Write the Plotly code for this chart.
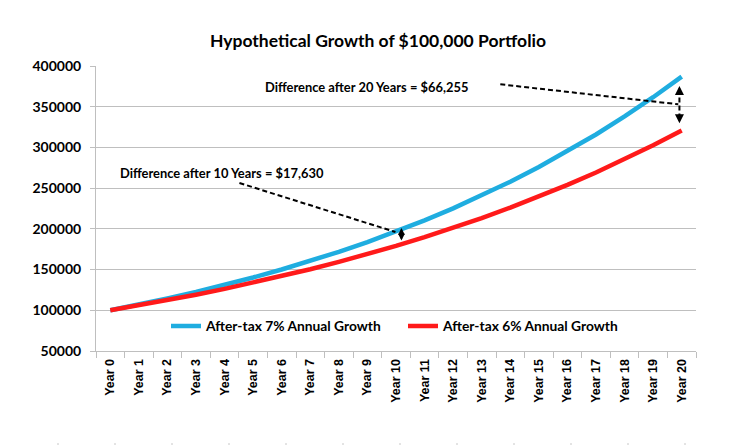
import plotly.graph_objects as go

years = [f"Year {i}" for i in range(21)]
growth_7 = [100000, 107000, 114490, 122504, 131080, 140255, 150073, 160578, 171819, 183846,
            196715, 210485, 225219, 240985, 257853, 275903, 295216, 315882, 337993, 361653, 386968]
growth_6 = [100000, 106000, 112360, 119102, 126248, 133823, 141852, 150363, 159385, 168948,
            179085, 189830, 201220, 213293, 226090, 239656, 254035, 269277, 285434, 302560, 320714]
series_names = ["After-tax 7% Annual Growth", "After-tax 6% Annual Growth"]
title_text = "Hypothetical Growth of $100,000 Portfolio"
note_20 = "Difference after 20 Years = $66,255"
note_10 = "Difference after 10 Years = $17,630"

CYAN = "#1FADE0"
RED = "#FF1A1A"
GRID = "#BFBFBF"

# the page body adds an 8px offset, so the figure is drawn 8px smaller
W, H = 723, 440
L, R, T, B = 88, 35, 58, 97

fig = go.Figure()
fig.add_trace(go.Scatter(x=years, y=growth_7, mode="lines", name=series_names[0],
                         line=dict(color=CYAN, width=4.5)))
fig.add_trace(go.Scatter(x=years, y=growth_6, mode="lines", name=series_names[1],
                         line=dict(color=RED, width=4.5)))

label_font = dict(family="Lato", size=12.9, color="black", weight="bold")

# text annotations
fig.add_annotation(x=8.96, y=374580, xref="x", yref="y", text=note_20, showarrow=False,
                   font=label_font)
fig.add_annotation(x=3.90, y=268600, xref="x", yref="y", text=note_10, showarrow=False,
                   font=label_font)

dash = "5px,3px"
# dashed pointer lines
fig.add_shape(type="line", xref="x", yref="y", x0=13.65, y0=377530, x1=19.88, y1=352970,
              line=dict(color="black", width=2, dash=dash))
fig.add_shape(type="line", xref="x", yref="y", x0=4.52, y0=256320, x1=9.98, y1=196140,
              line=dict(color="black", width=2, dash=dash))

# dashed double arrow at year 20
fig.add_shape(type="line", xref="x", yref="y", x0=19.92, y0=371000, x1=19.92, y1=334000,
              line=dict(color="black", width=2, dash=dash))
fig.add_annotation(x=19.92, y=375440, ax=19.92, ay=368000, xref="x", yref="y",
                   axref="x", ayref="y", showarrow=True, arrowhead=2, arrowsize=1.2,
                   arrowwidth=1.5, arrowcolor="black", text="")
fig.add_annotation(x=19.92, y=329630, ax=19.92, ay=337000, xref="x", yref="y",
                   axref="x", ayref="y", showarrow=True, arrowhead=2, arrowsize=1.2,
                   arrowwidth=1.5, arrowcolor="black", text="")

# solid double arrow at year 10
fig.add_annotation(x=10.19, y=201050, ax=10.19, ay=183860, xref="x", yref="y",
                   axref="x", ayref="y", showarrow=True, arrowhead=2, arrowsize=0.9,
                   arrowwidth=1.5, arrowcolor="black", arrowside="end+start", text="")

# faint dotted line near the bottom of the image
fig.add_shape(type="line", xref="paper", yref="paper", x0=-0.16, x1=1.06,
              y0=-(436 - 343) / 285, y1=-(436 - 343) / 285,
              line=dict(color="#C8C8C8", width=1, dash="2px,55px"))

fig.update_layout(
    width=W, height=H, autosize=False,
    margin=dict(l=L, r=R, t=T, b=B),
    paper_bgcolor="white", plot_bgcolor="white",
    title=dict(text=title_text, x=370 / W, xanchor="center", y=1 - 33 / H, yanchor="middle",
               font=dict(family="Lato", size=17.5, color="black", weight="bold")),
    showlegend=True,
    legend=dict(orientation="h", x=(158 - L) / 600, xanchor="left", y=0.0877, yanchor="middle",
                font=dict(family="Lato", size=13.8, color="black", weight="bold"),
                bgcolor="rgba(0,0,0,0)", entrywidth=192, entrywidthmode="pixels",
                itemwidth=30),
    xaxis=dict(type="category", range=[-0.5, 20.5], showgrid=False, showline=True,
               linecolor=GRID, linewidth=1,
               ticks="outside", tickson="boundaries", ticklen=6, tickcolor=GRID,
               tickangle=-90, tickfont=dict(family="Liberation Sans", size=12.5, color="black",
                                            weight="bold"),
               ticklabelstandoff=2, fixedrange=True, automargin=False),
    yaxis=dict(range=[50000, 400000], dtick=50000, tick0=50000, tickformat="d",
               showgrid=True, gridcolor=GRID, gridwidth=1, showline=True, linecolor=GRID,
               ticks="outside", ticklen=5, tickcolor=GRID, zeroline=False,
               tickfont=dict(family="Lato", size=14, color="black", weight="bold"),
               ticklabelstandoff=6, fixedrange=True, automargin=False),
)

fig.write_html("out.html")
